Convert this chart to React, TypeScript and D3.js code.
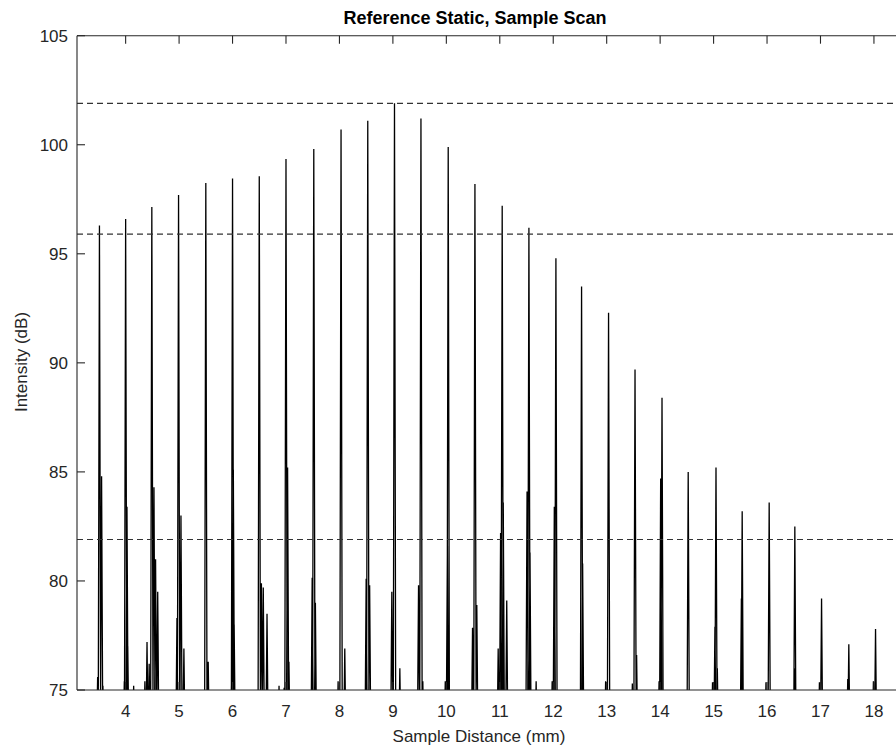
import React from "react";
import * as d3 from "d3";

const mainX = [3.51, 4.0, 4.49, 4.99, 5.5, 6.0, 6.5, 7.0, 7.52, 8.03, 8.53, 9.03, 9.525, 10.035, 10.535, 11.045, 11.545, 12.05, 12.53, 13.035, 13.53, 14.035, 14.525, 15.045, 15.535, 16.04, 16.52, 17.02, 17.53, 18.03];
const mainDb = [96.3, 96.6, 97.15, 97.7, 98.25, 98.45, 98.55, 99.35, 99.8, 100.7, 101.1, 101.9, 101.2, 99.9, 98.2, 97.2, 96.2, 94.8, 93.5, 92.3, 89.7, 88.4, 85.0, 85.2, 83.2, 83.6, 82.5, 79.2, 77.1, 77.8];

const minorX = [3.476, 3.55, 3.575, 3.975, 4.025, 4.04, 4.15, 4.36, 4.4, 4.44, 4.53, 4.56, 4.6, 4.96, 5.035, 5.09, 5.545, 5.98, 6.015, 6.03, 6.54, 6.575, 6.645, 6.87, 6.965, 7.03, 7.055, 7.49, 7.55, 7.975, 8.1, 8.5, 8.565, 8.98, 9.13, 9.48, 9.56, 9.98, 10.02, 10.49, 10.57, 10.97, 11.015, 11.065, 11.13, 11.51, 11.565, 11.68, 11.98, 12.02, 12.55, 12.98, 13.48, 13.56, 13.98, 14.01, 14.98, 15.025, 15.07, 15.52, 15.98, 16.51, 16.98, 17.51, 17.99];
const minorDb = [75.6, 84.8, 75.2, 75.4, 83.4, 77.0, 75.2, 75.4, 77.2, 76.2, 84.3, 81.0, 79.5, 78.3, 83.0, 76.9, 76.3, 75.4, 85.1, 78.0, 79.9, 79.7, 78.5, 75.2, 75.1, 85.2, 76.3, 80.15, 79.0, 75.4, 76.9, 80.1, 79.8, 79.5, 76.0, 79.8, 75.4, 75.4, 81.6, 77.85, 78.9, 76.9, 82.2, 83.6, 79.1, 84.1, 81.3, 75.4, 75.4, 83.4, 80.8, 75.4, 75.3, 76.6, 75.4, 84.7, 75.35, 77.9, 76.0, 79.2, 75.35, 76.0, 75.35, 75.5, 75.4];

const xTicks = [4, 5, 6, 7, 8, 9, 10, 11, 12, 13, 14, 15, 16, 17, 18];
const yTicks = [75, 80, 85, 90, 95, 100, 105];
const refLines = [101.9, 95.9, 81.9];

const W = 896;
const H = 747;
const left = 77;
const top = 35.7;
const bottom = 690;
const pxPerMm = 53.45;
const xMin = 3.09;
const xMax = 3.09 + (920 - left) / pxPerMm;

export default function App() {
  const x = d3.scaleLinear().domain([xMin, xMax]).range([left, 920]);
  const y = d3.scaleLinear().domain([75, 105]).range([bottom, top]);

  const peaks = mainX
    .map((v, i) => ({ x: v, y: mainDb[i] }))
    .concat(minorX.map((v, i) => ({ x: v, y: minorDb[i] })))
    .sort((a, b) => a.x - b.x);

  const hw = 0.024;
  const base = 72;
  const pts: [number, number][] = [[xMin, base]];
  peaks.forEach((p) => {
    pts.push([p.x - hw, base]);
    pts.push([p.x, p.y]);
    pts.push([p.x + hw, base]);
  });
  pts.push([xMax, base]);

  const line = d3
    .line<[number, number]>()
    .x((d) => x(d[0]))
    .y((d) => y(d[1]));

  const font = "Liberation Sans, Arial, Helvetica, sans-serif";
  const axisColor = "#262626";
  const tickLen = 8;

  return (
    <svg
      width={W}
      height={H}
      style={{ position: "absolute", left: 0, top: 0, background: "#fff" }}
      fontFamily={font}
    >
      <defs>
        <clipPath id="plotclip">
          <rect x={left} y={top} width={920 - left} height={bottom - top} />
        </clipPath>
      </defs>
      <rect x={0} y={0} width={W} height={H} fill="#fff" />

      <g clipPath="url(#plotclip)">
        <path d={line(pts) || ""} fill="none" stroke="#000" strokeWidth={1.3} strokeLinejoin="miter" />
        {refLines.map((v) => (
          <line
            key={v}
            x1={left}
            x2={920}
            y1={y(v)}
            y2={y(v)}
            stroke="#333"
            strokeWidth={1.2}
            strokeDasharray="6,4"
          />
        ))}
      </g>

      <line x1={left} x2={920} y1={bottom} y2={bottom} stroke={axisColor} strokeWidth={1.1} />
      <line x1={left} x2={920} y1={top} y2={top} stroke={axisColor} strokeWidth={1.1} />
      <line x1={left} x2={left} y1={top} y2={bottom} stroke={axisColor} strokeWidth={1.1} />

      {xTicks.map((t) => (
        <g key={t}>
          <line x1={x(t)} x2={x(t)} y1={bottom} y2={bottom - tickLen} stroke={axisColor} strokeWidth={1.1} />
          <line x1={x(t)} x2={x(t)} y1={top} y2={top + tickLen} stroke={axisColor} strokeWidth={1.1} />
          <text x={x(t)} y={bottom + 27} textAnchor="middle" fontSize={17} fill="#262626">
            {t}
          </text>
        </g>
      ))}

      {yTicks.map((t) => (
        <g key={t}>
          <line x1={left} x2={left + tickLen} y1={y(t)} y2={y(t)} stroke={axisColor} strokeWidth={1.1} />
          <text x={left - 9} y={y(t) + 6} textAnchor="end" fontSize={17} fill="#262626">
            {t}
          </text>
        </g>
      ))}

      <text x={475} y={24} textAnchor="middle" fontSize={18} fontWeight="bold" fill="#000">
        Reference Static, Sample Scan
      </text>
      <text x={479} y={742} textAnchor="middle" fontSize={17} fill="#262626">
        Sample Distance (mm)
      </text>
      <text
        transform={`translate(27, 362) rotate(-90)`}
        textAnchor="middle"
        fontSize={17}
        fill="#262626"
      >
        Intensity (dB)
      </text>
    </svg>
  );
}
